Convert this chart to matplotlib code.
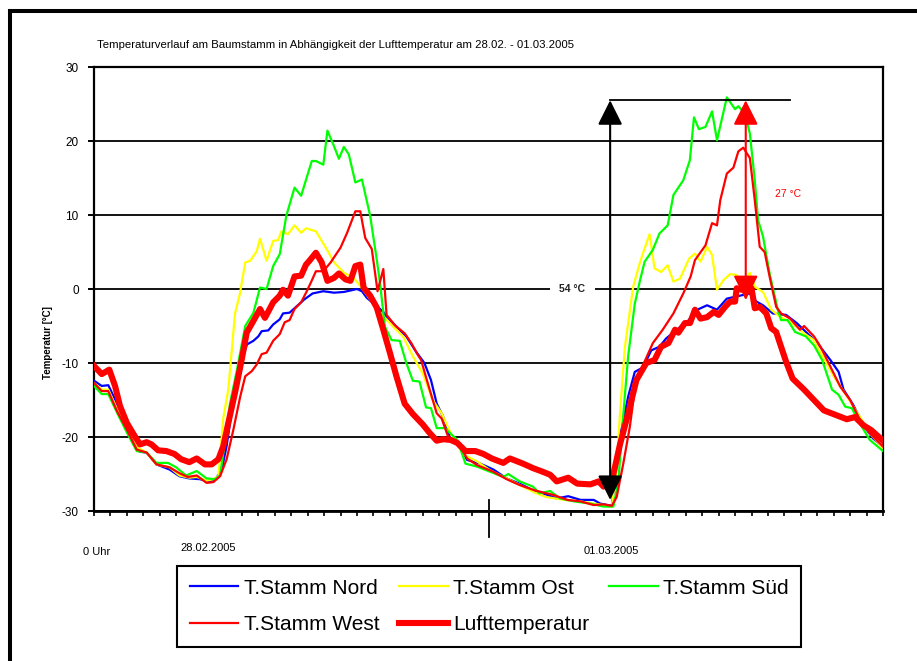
import matplotlib
matplotlib.use("Agg")
import matplotlib.pyplot as plt
import matplotlib.transforms as mtransforms
from matplotlib.lines import Line2D

plt.rcParams['font.family'] = ['Liberation Sans', 'DejaVu Sans']

# ---- measured temperatures (hour since 0 Uhr on 28.02., °C) ----
nord_h = [0.0, 0.47, 0.87, 1.28, 2.0, 2.4, 2.8, 3.2, 3.8, 4.6, 5.2, 5.8, 6.45, 7.06, 7.46, 7.77,
          8.07, 8.48, 8.9, 9.3, 9.7, 10.0, 10.2, 10.6, 10.9, 11.3, 11.5, 11.9, 12.3, 12.8, 13.3,
          13.95, 14.6, 15.2, 16.0, 16.3, 16.6, 17.2, 17.6, 17.8, 18.4, 19.0, 19.6, 20.1, 20.5,
          20.85, 21.25, 21.65, 22.3, 22.7, 23.5, 24.3, 25.1, 25.9, 26.7, 27.3, 28.15, 28.85,
          29.6, 30.4, 30.8, 31.5, 32.0, 32.5, 32.9, 33.4, 33.9, 34.4, 34.8, 35.45, 36.1, 36.7,
          37.3, 37.9, 38.5, 39.1, 39.5, 39.9, 40.3, 40.7, 41.3, 42.1, 42.75, 43.4, 44.0, 44.8,
          45.3, 45.6, 46.2, 46.8, 47.4, 48.0]
nord_t = [-12.4, -13.1, -13.0, -14.9, -18.5, -20.8, -22.0, -22.1, -23.7, -24.4, -25.3, -25.6,
          -25.7, -26.1, -25.5, -24.4, -21.2, -14.9, -10.4, -7.5, -7.0, -6.4, -5.7, -5.6, -4.8,
          -4.1, -3.3, -3.2, -2.4, -1.4, -0.6, -0.3, -0.5, -0.4, 0.0, -0.3, -1.2, -2.3, -3.1,
          -3.7, -5.1, -6.4, -8.5, -10.0, -12.3, -15.5, -17.3, -20.0, -21.5, -23.1, -23.6, -24.4,
          -25.6, -26.3, -27.2, -27.6, -28.3, -28.0, -28.5, -28.5, -29.0, -29.3, -20.0, -14.5,
          -11.2, -10.6, -8.3, -7.8, -6.7, -5.5, -4.4, -2.8, -2.2, -2.8, -1.3, -1.0, -0.8, -0.6,
          -1.7, -2.2, -3.3, -3.5, -4.6, -6.0, -7.3, -9.6, -11.2, -13.6, -15.7, -18.4, -20.2,
          -21.3]

ost_h = [0.0, 0.47, 0.87, 1.4, 2.0, 2.6, 3.2, 3.8, 4.6, 5.2, 5.8, 6.25, 6.85, 7.26, 7.57, 7.87,
         8.17, 8.58, 8.88, 9.2, 9.5, 9.9, 10.1, 10.5, 10.9, 11.2, 11.4, 11.8, 12.2, 12.6, 12.9,
         13.5, 14.1, 14.6, 15.2, 15.8, 16.2, 16.8, 17.4, 18.2, 18.8, 19.4, 20.0, 20.6, 21.15,
         21.8, 22.5, 23.3, 24.1, 25.1, 26.1, 26.9, 27.5, 28.6, 29.6, 30.4, 31.0, 31.5, 31.8,
         32.0, 32.3, 32.8, 33.2, 33.5, 33.8, 34.1, 34.5, 34.9, 35.25, 35.65, 36.2, 36.56, 36.9,
         37.3, 37.6, 37.9, 38.3, 38.7, 39.1, 39.5, 39.9, 40.2, 40.7, 41.2, 41.7, 42.45, 43.2,
         43.8, 44.4, 45.0, 45.8, 46.6, 47.2, 48.0]
ost_t = [-12.7, -13.6, -13.6, -16.3, -19.0, -21.4, -22.1, -23.7, -24.1, -25.2, -25.5, -25.4,
         -25.9, -25.7, -25.3, -17.4, -13.6, -3.3, -0.6, 3.6, 3.8, 5.1, 6.8, 3.8, 6.5, 6.6, 7.8,
         7.4, 8.6, 7.6, 8.2, 7.8, 5.6, 3.6, 2.2, 1.5, 0.4, -1.4, -3.2, -5.1, -6.4, -9.1, -11.4,
         -15.0, -16.8, -20.0, -22.4, -23.3, -24.5, -25.6, -26.7, -27.6, -28.1, -28.5, -28.7,
         -29.0, -29.2, -29.4, -24.0, -16.8, -7.8, 0.3, 3.5, 5.5, 7.4, 2.8, 2.3, 3.2, 1.0, 1.4,
         4.1, 4.8, 3.7, 5.7, 4.6, -0.1, 1.2, 2.0, 1.9, 0.8, 2.2, 0.3, -0.4, -2.8, -3.7, -4.6,
         -6.0, -6.9, -9.4, -11.8, -14.5, -17.3, -19.5, -21.5]

sued_h = [0.0, 0.47, 0.87, 1.4, 2.0, 2.6, 3.2, 3.8, 4.5, 5.0, 5.6, 6.25, 6.85, 7.36, 7.67, 7.87,
          8.28, 8.7, 9.2, 9.7, 10.1, 10.5, 10.9, 11.3, 11.7, 12.2, 12.6, 13.25, 13.5, 13.95,
          14.2, 14.6, 14.9, 15.2, 15.5, 15.9, 16.3, 16.8, 17.2, 17.4, 17.7, 18.1, 18.6, 19.0,
          19.4, 19.8, 20.2, 20.5, 20.85, 21.35, 22.1, 22.6, 23.3, 24.1, 24.9, 25.2, 25.9, 26.7,
          27.1, 27.75, 28.35, 29.2, 30.2, 31.0, 31.6, 31.9, 32.2, 32.5, 32.9, 33.2, 33.5, 34.0,
          34.4, 34.9, 35.25, 35.85, 36.25, 36.5, 36.8, 37.2, 37.6, 37.9, 38.5, 39.0, 39.2, 39.6,
          39.9, 40.2, 40.4, 40.7, 41.1, 41.6, 41.8, 42.2, 42.65, 43.3, 43.8, 44.3, 44.9, 45.3,
          45.7, 46.1, 46.6, 47.2, 48.0]
sued_t = [-13.1, -14.2, -14.2, -16.7, -19.4, -21.9, -22.1, -23.5, -23.5, -24.1, -25.2, -24.6,
          -25.6, -25.7, -25.2, -22.1, -15.4, -10.9, -5.0, -3.2, 0.2, 0.0, 3.1, 4.7, 9.9, 13.7,
          12.6, 17.3, 17.3, 16.8, 21.4, 19.3, 17.6, 19.2, 18.2, 14.4, 14.8, 9.9, 4.0, 0.8, -5.1,
          -6.9, -7.0, -10.0, -12.4, -12.5, -16.0, -16.1, -18.8, -18.8, -20.4, -23.6, -24.0,
          -24.7, -25.4, -25.0, -26.0, -26.7, -27.6, -27.3, -28.3, -28.7, -29.0, -29.4, -29.4,
          -26.0, -17.0, -9.0, -2.0, 1.0, 3.7, 5.3, 7.5, 8.6, 12.7, 14.7, 17.4, 23.2, 21.6, 21.9,
          24.0, 20.1, 25.9, 24.3, 24.7, 23.7, 21.0, 14.7, 9.3, 7.1, 2.1, -2.8, -4.2, -4.2, -5.8,
          -6.4, -7.6, -9.6, -13.6, -14.3, -15.9, -16.1, -18.2, -20.4, -21.9]

west_h = [0.0, 0.47, 0.87, 1.4, 2.0, 2.6, 3.2, 3.8, 4.6, 5.2, 5.7, 6.25, 6.85, 7.26, 7.67, 8.07,
          8.48, 8.9, 9.2, 9.6, 9.9, 10.2, 10.5, 10.9, 11.3, 11.6, 11.9, 12.2, 12.6, 12.9, 13.2,
          13.5, 13.95, 14.4, 15.0, 15.4, 15.9, 16.2, 16.5, 16.9, 17.25, 17.6, 17.8, 18.3, 18.9,
          19.3, 19.7, 19.9, 20.3, 20.85, 21.15, 21.55, 22.1, 22.7, 23.3, 24.3, 25.1, 25.9, 26.8,
          27.5, 27.9, 28.8, 29.6, 30.4, 31.0, 31.5, 31.8, 32.2, 32.6, 32.9, 33.4, 34.0, 34.6,
          35.25, 35.85, 36.3, 36.56, 37.2, 37.6, 37.9, 38.1, 38.5, 38.9, 39.2, 39.5, 39.9, 40.2,
          40.5, 40.8, 41.1, 41.5, 41.8, 42.35, 42.95, 43.2, 43.8, 44.2, 44.8, 45.4, 46.0, 46.6,
          47.2, 48.0]
west_t = [-12.7, -13.8, -13.8, -16.5, -19.0, -21.7, -22.1, -23.7, -24.1, -24.9, -25.4, -25.2,
          -26.2, -26.1, -25.3, -23.0, -19.0, -14.5, -11.8, -11.1, -10.2, -8.8, -8.6, -7.0, -6.1,
          -4.5, -4.2, -2.7, -1.8, -0.5, 0.9, 2.4, 2.4, 3.6, 5.6, 7.6, 10.5, 10.5, 6.9, 5.4,
          -0.3, 2.7, -3.5, -4.9, -6.0, -7.3, -8.9, -9.6, -12.7, -16.8, -17.5, -20.0, -20.6,
          -22.9, -23.8, -24.7, -25.7, -26.5, -27.2, -27.6, -27.8, -28.5, -28.7, -29.2, -29.1,
          -29.3, -28.1, -23.6, -18.6, -13.6, -10.3, -7.3, -5.5, -3.3, -0.6, 1.7, 3.9, 5.9, 8.9,
          8.6, 12.0, 15.6, 16.4, 18.6, 19.1, 17.7, 12.0, 5.7, 5.0, 1.7, -2.4, -3.3, -4.0, -5.5,
          -5.0, -6.4, -7.8, -10.5, -13.2, -15.0, -17.7, -19.5, -21.3]

luft_h = [0.0, 0.47, 0.93, 1.28, 1.58, 2.0, 2.4, 2.8, 3.2, 3.5, 3.9, 4.4, 4.9, 5.3, 5.8, 6.25,
          6.75, 7.16, 7.57, 7.87, 8.17, 8.58, 8.99, 9.29, 9.7, 10.1, 10.4, 10.9, 11.3, 11.5,
          11.8, 12.2, 12.6, 12.9, 13.1, 13.5, 13.85, 14.2, 14.6, 14.9, 15.3, 15.6, 15.9, 16.2,
          16.4, 16.8, 17.2, 17.6, 18.0, 18.4, 18.9, 19.4, 20.0, 20.4, 20.85, 21.25, 21.7, 22.1,
          22.6, 23.2, 23.7, 24.2, 24.9, 25.3, 26.1, 26.7, 27.3, 27.75, 28.15, 28.85, 29.4, 30.2,
          30.7, 31.0, 31.5, 32.0, 32.5, 33.0, 33.6, 34.1, 34.5, 34.95, 35.35, 35.55, 35.95,
          36.26, 36.56, 36.9, 37.3, 37.7, 38.0, 38.4, 38.7, 39.0, 39.1, 39.4, 39.7, 40.0, 40.2,
          40.5, 40.9, 41.2, 41.5, 41.8, 42.1, 42.5, 43.2, 43.8, 44.4, 45.1, 45.8, 46.3, 46.8,
          47.3, 48.0]
luft_t = [-10.4, -11.5, -10.9, -13.1, -15.8, -18.1, -19.6, -21.0, -20.7, -21.0, -21.8, -21.9,
          -22.3, -23.0, -23.4, -22.9, -23.7, -23.7, -23.0, -21.2, -18.1, -14.0, -9.5, -5.9,
          -4.3, -2.7, -3.9, -1.8, -0.9, -0.1, -0.9, 1.7, 1.8, 3.3, 3.8, 4.9, 3.6, 1.1, 1.5, 2.1,
          1.3, 1.1, 3.1, 3.3, 0.2, -0.9, -2.5, -5.5, -8.6, -11.8, -15.5, -16.9, -18.3, -19.4,
          -20.5, -20.3, -20.4, -20.8, -21.9, -21.9, -22.3, -22.9, -23.5, -22.9, -23.6, -24.2,
          -24.7, -25.1, -26.0, -25.5, -26.3, -26.4, -26.0, -26.7, -26.0, -21.0, -16.8, -12.3,
          -10.0, -9.6, -7.8, -7.3, -5.5, -5.9, -4.6, -4.6, -2.8, -4.0, -3.8, -3.1, -3.5, -2.4,
          -1.7, -1.7, 0.1, -0.1, 0.7, 0.1, -2.6, -2.4, -3.3, -5.3, -5.8, -7.8, -9.8, -12.1,
          -13.6, -15.0, -16.4, -17.0, -17.6, -17.3, -18.4, -19.1, -20.5]

series_labels = ['T.Stamm Nord', 'T.Stamm Ost', 'T.Stamm Süd', 'T.Stamm West', 'Lufttemperatur']
series_colors = ['#0000ff', '#ffff00', '#00ff00', '#ff0000', '#ff0000']

y_ticks = [-30, -20, -10, 0, 10, 20, 30]
hour_ticks = list(range(0, 49))
day_boundary = 24

title = 'Temperaturverlauf am Baumstamm in Abhängigkeit der Lufttemperatur am 28.02. - 01.03.2005'
date_labels = ['0 Uhr', '28.02.2005', '01.03.2005']

# temperature ranges marked with arrows
range_peak = 25.5          # upper cap of both range arrows
range_trunk = 54           # coldest to warmest trunk reading
range_south_air = 27       # south trunk vs. air at midday
arrow_hour_trunk = 31.4
arrow_hour_south = 39.65
cap_end_hour = 42.35

# ---- figure ----
W, H = 917, 661
fig = plt.figure(figsize=(W / 100, H / 100), dpi=100)
ax = fig.add_axes([94 / W, 1 - 511 / H, (883 - 94) / W, (511 - 67) / H])

widths = [1.6, 1.6, 1.6, 1.6, 4.4]
all_h = [nord_h, ost_h, sued_h, west_h, luft_h]
all_t = [nord_t, ost_t, sued_t, west_t, luft_t]
handles = []
for h, t, lab, col, lw in zip(all_h, all_t, series_labels, series_colors, widths):
    ln, = ax.plot(h, t, color=col, lw=lw, label=lab, solid_joinstyle='round', zorder=3)
    handles.append(ln)

ax.set_xlim(0, 48)
ax.set_ylim(-30, 30)
ax.set_yticks(y_ticks)
ax.set_yticklabels([str(v) for v in y_ticks], fontsize=8.5)
ax.set_xticks(hour_ticks)
ax.set_xticklabels([])
ax.tick_params(axis='y', direction='out', length=4, width=1.4, pad=7, colors='black')
ax.tick_params(axis='x', direction='out', length=3.5, width=1.2)
ax.yaxis.grid(True, color='black', lw=1.3, zorder=1)
ax.set_axisbelow(True)
for side in ['left', 'right', 'top', 'bottom']:
    ax.spines[side].set_color('black')
    ax.spines[side].set_linewidth(1.6)
ax.spines['bottom'].set_linewidth(2.0)

# long tick at midnight between the two days
tr = mtransforms.blended_transform_factory(ax.transData, ax.transAxes)
ax.plot([day_boundary, day_boundary], [0.025, -0.059], transform=tr, color='black',
        lw=1.3, clip_on=False, zorder=4)

# range arrows
arrow_kw = dict(arrowstyle='<|-|>,head_length=0.4,head_width=0.2', mutation_scale=38,
                shrinkA=0, shrinkB=0, lw=1.5)
ax.annotate('', xy=(arrow_hour_trunk, range_peak),
            xytext=(arrow_hour_trunk, range_peak - range_trunk),
            arrowprops=dict(color='black', **arrow_kw), zorder=6, annotation_clip=False)
ax.annotate('', xy=(arrow_hour_south, range_peak),
            xytext=(arrow_hour_south, range_peak - range_south_air),
            arrowprops=dict(color='#ff0000', **arrow_kw), zorder=6)
ax.plot([arrow_hour_trunk, cap_end_hour], [range_peak, range_peak], color='black',
        lw=1.3, zorder=5)
ax.text(29.1, 0, f'{range_trunk} °C', fontsize=7.5, fontweight='bold', color='#222222',
        ha='center', va='center', zorder=5,
        bbox=dict(boxstyle='square,pad=0.9', fc='white', ec='none'))
ax.text(42.2, 12.8, f'{range_south_air} °C', fontsize=7.5, color='#ff0000',
        ha='center', va='center', zorder=5)

# texts around the plot
fig.text(97 / W, 1 - 45 / H, title, fontsize=8.2, va='center', ha='left')
fig.text(48 / W, 1 - 343 / H, 'Temperatur [°C]', rotation=90, fontsize=7,
         fontweight='bold', ha='center', va='center')
fig.text(97 / W, 1 - 552 / H, date_labels[0], fontsize=8, ha='center', va='center')
fig.text(208 / W, 1 - 548 / H, date_labels[1], fontsize=8, ha='center', va='center')
fig.text(611 / W, 1 - 551 / H, date_labels[2], fontsize=8, ha='center', va='center')

# legend, row-wise: Nord Ost Süd / West Luft
order = [0, 3, 1, 4, 2]
leg_h = 0.01
leg = fig.legend([handles[i] for i in order], [series_labels[i] for i in order], ncol=3,
                 loc='upper left',
                 bbox_to_anchor=(177 / W, 1 - 566 / H - leg_h, 624 / W, leg_h),
                 mode='expand', fontsize=15,
                 frameon=True, fancybox=False, edgecolor='black', framealpha=1,
                 handlelength=2.35, handletextpad=0.25, columnspacing=0.55,
                 borderpad=0.6, labelspacing=0.85, borderaxespad=0)
leg.get_frame().set_linewidth(1.5)

# outer frame (top and left edges)
fig.add_artist(Line2D([10 / W, 10 / W], [0, 1 - 11 / H], transform=fig.transFigure,
                      color='black', lw=2.9))
fig.add_artist(Line2D([10 / W, 1], [1 - 11 / H, 1 - 11 / H], transform=fig.transFigure,
                      color='black', lw=2.9))

fig.savefig('out.png', dpi=100)
